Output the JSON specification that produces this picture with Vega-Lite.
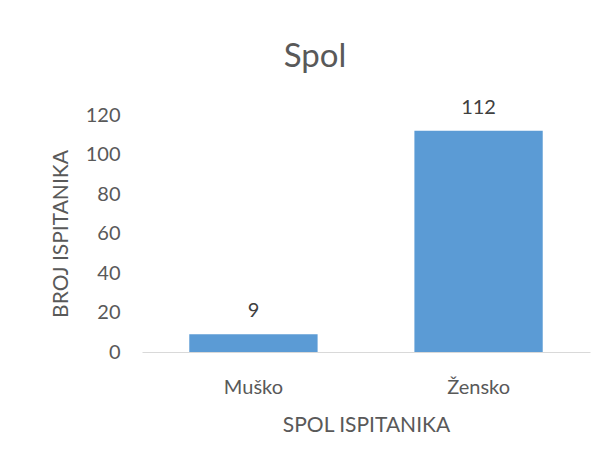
{
  "$schema": "https://vega.github.io/schema/vega-lite/v6.json",
  "autosize": "none",
  "width": 448,
  "height": 237,
  "padding": {"left": 142, "right": 21, "top": 115, "bottom": 112},
  "background": "white",
  "title": {
    "text": "Spol",
    "fontSize": 33,
    "font": "Lato",
    "fontWeight": "normal",
    "color": "#595959",
    "anchor": "middle",
    "dx": -51,
    "offset": 24
  },
  "data": {
    "values": [
      {"spol": "Muško", "broj": 9},
      {"spol": "Žensko", "broj": 112}
    ]
  },
  "encoding": {
    "x": {
      "field": "spol",
      "type": "nominal",
      "sort": null,
      "scale": {"paddingInner": 0.43, "paddingOuter": 0.21},
      "axis": {
        "title": "SPOL ISPITANIKA",
        "labelAngle": 0,
        "ticks": false,
        "domainColor": "#d9d9d9",
        "labelFontSize": 20,
        "labelColor": "#595959",
        "labelPadding": 25,
        "titleFontSize": 21,
        "titleFontWeight": "normal",
        "titleColor": "#595959",
        "titlePadding": 17,
        "labelFont": "Lato",
        "titleFont": "Lato"
      }
    },
    "y": {
      "field": "broj",
      "type": "quantitative",
      "scale": {"domain": [0, 120]},
      "axis": {
        "title": "BROJ ISPITANIKA",
        "values": [0, 20, 40, 60, 80, 100, 120],
        "grid": false,
        "ticks": false,
        "domain": false,
        "labelFontSize": 20,
        "labelColor": "#595959",
        "labelPadding": 22,
        "titleFontSize": 21,
        "titleFontWeight": "normal",
        "titleColor": "#595959",
        "titlePadding": 14,
        "labelFont": "Lato",
        "titleFont": "Lato"
      }
    }
  },
  "layer": [
    {"mark": {"type": "bar", "color": "#5b9bd5"}},
    {
      "mark": {"type": "text", "baseline": "alphabetic", "dy": -17, "fontSize": 20, "font": "Lato", "color": "#404040"},
      "encoding": {"text": {"field": "broj", "type": "quantitative"}}
    }
  ],
  "config": {"view": {"stroke": null}}
}
